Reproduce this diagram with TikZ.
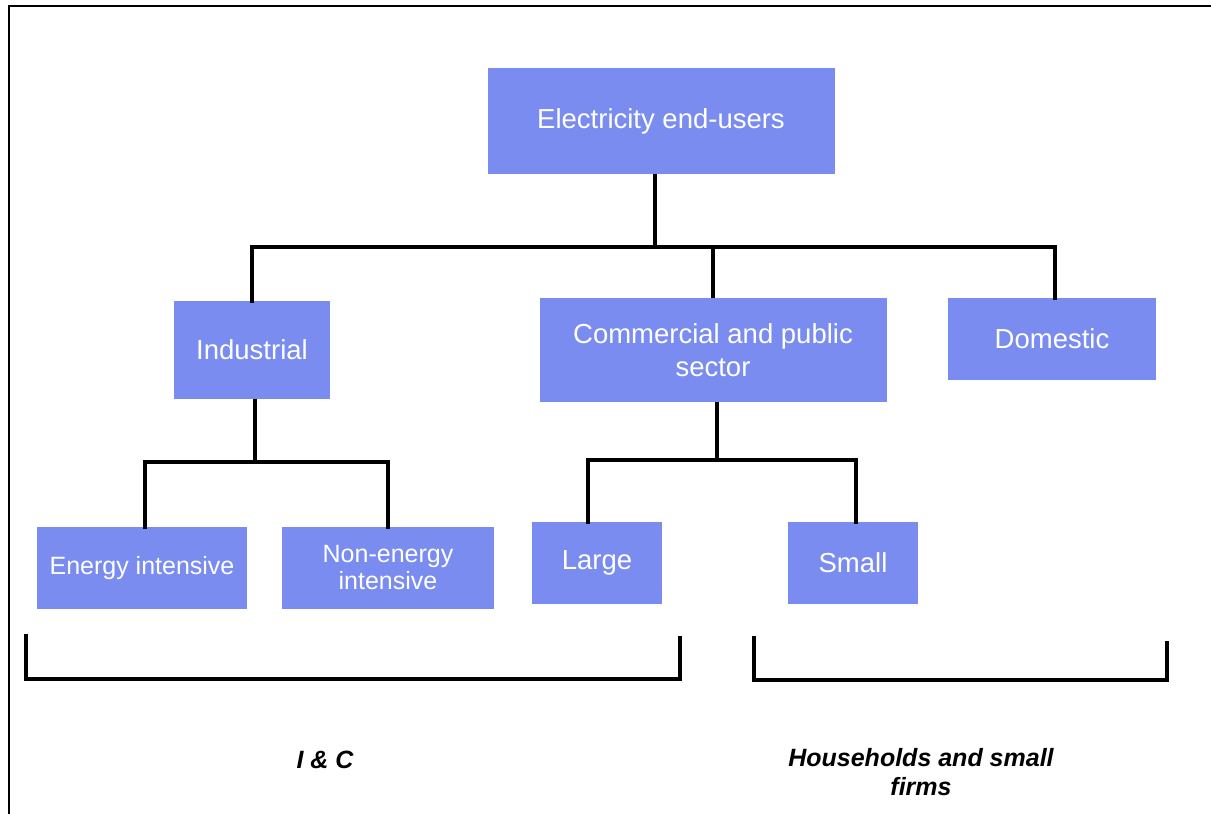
\documentclass[tikz,border=0pt]{standalone}
\usepackage{fontspec}
\setmainfont{Liberation Sans}
\usetikzlibrary{calc}
\definecolor{BoxBlue}{RGB}{122,140,240}
\tikzset{Box/.style={fill=BoxBlue, text=white, align=center, inner sep=0pt,
                     font=\fontsize{27.5}{33}\selectfont},
         BoxS/.style={Box, font=\fontsize{25}{27}\selectfont},
         Link/.style={line width=4pt, line cap=rect},
         Lbl/.style={align=center, font=\fontsize{25}{29}\selectfont\bfseries\itshape}}
\begin{document}
\begin{tikzpicture}[x=1pt, y=-1pt]
  \useasboundingbox (0,0) rectangle (1211,814);
  \draw[line width=2pt] (1211,6) -- (9,6) -- (9,814);
    \node[Box, minimum width=347pt, minimum height=106pt] (E0) at (661,121) {Electricity end-users};
    \node[Box, minimum width=156pt, minimum height=98pt] (Ind) at (252,350) {Industrial};
    \node[Box, minimum width=347pt, minimum height=104pt] (Com) at (713,350) {Commercial and public\\sector};
    \node[Box, minimum width=208pt, minimum height=82pt] (Dom) at (1052,339) {Domestic};
    \node[BoxS, minimum width=210pt, minimum height=82pt] (EnI) at (142,568) {Energy intensive};
    \node[BoxS, minimum width=212pt, minimum height=82pt] (NonI) at (388,568) {Non-energy\\intensive};
    \node[Box, minimum width=130pt, minimum height=82pt] (Lrg) at (597,563) {Large};
    \node[Box, minimum width=130pt, minimum height=82pt] (Sml) at (853,563) {Small};
  % junctions of the branch bars
  \coordinate (J0) at (655,247);
  \coordinate (J1) at (255,462);
  \coordinate (J2) at (717,460);
  \draw[Link, line cap=butt] ([xshift=-6pt]E0.south) -- (J0);
  \draw[Link] (Ind.north) -- (Ind.north |- J0) -- ([xshift=3pt]Dom.north |- J0) -- ([xshift=3pt]Dom.north);
  \draw[Link, line cap=butt] (Com.north) -- (Com.north |- J0);
  \draw[Link, line cap=butt] ([xshift=3pt]Ind.south) -- (J1);
  \draw[Link] ([xshift=3pt]EnI.north) -- ([xshift=3pt]EnI.north |- J1) -- (NonI.north |- J1) -- (NonI.north);
  \draw[Link, line cap=butt] ([xshift=4pt]Com.south) -- (J2);
  \draw[Link] ([xshift=-9pt]Lrg.north) -- ([xshift=-9pt]Lrg.north |- J2) -- ([xshift=3pt]Sml.north |- J2) -- ([xshift=3pt]Sml.north);
  % brackets
  \coordinate (B0) at (26,634);
  \coordinate (B1) at (680,636);
  \coordinate (B2) at (754,636);
  \coordinate (B3) at (1167,641);
  \draw[Link, line cap=butt] (B0) -- (B0 |- 0,679) -- (B1 |- 0,679) -- (B1);
  \draw[Link, line cap=butt] (B2) -- (B2 |- 0,680) -- (B3 |- 0,680) -- (B3);
    \node[Lbl] (IC) at (325,760) {I \& C};
    \node[Lbl] (HH) at (921,772) {Households and small\\firms};
\end{tikzpicture}
\end{document}
